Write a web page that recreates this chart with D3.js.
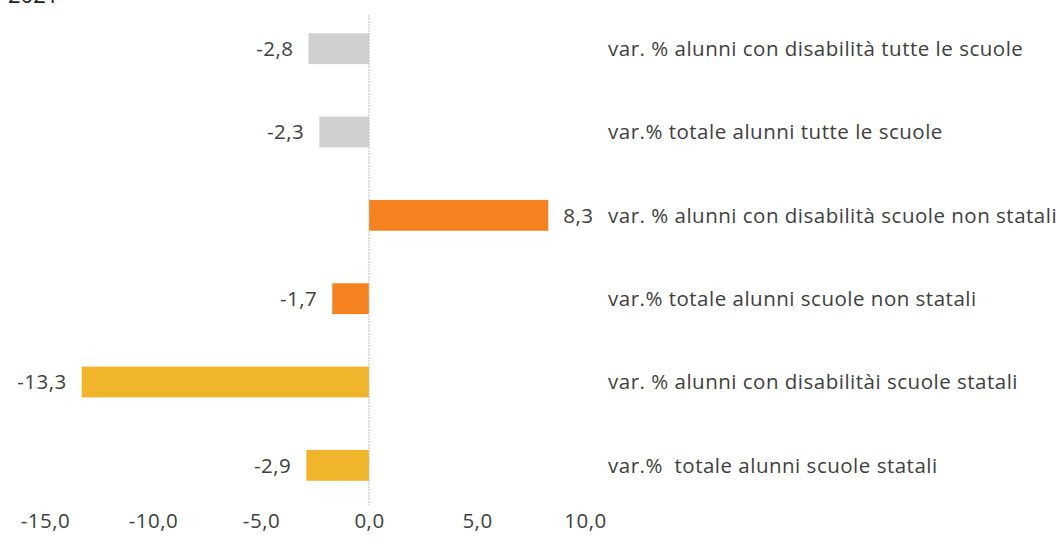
<!DOCTYPE html>
<html>
<head>
	<title>variazioni alunni</title>
	<style>
	body { margin: 0; background: #fff; }
	.lbl { font-family: "Open Sans", sans-serif; font-size: 20.5px; fill: #404040; letter-spacing: 0.5px; }
	.tick text { font-family: "Open Sans", sans-serif; font-size: 20.5px; fill: #404040; letter-spacing: 0.5px; }
	</style>
	<script src="https://d3js.org/d3.v7.min.js"></script>
</head>
<body>
	<script type="text/javascript">
		// dati
		var categories = [
			'var. % alunni con disabilità tutte le scuole',
			'var.% totale alunni tutte le scuole',
			'var. % alunni con disabilità scuole non statali',
			'var.% totale alunni scuole non statali',
			'var. % alunni con disabilitài scuole statali',
			'var.%  totale alunni scuole statali'
		];
		var values = [-2.8, -2.3, 8.3, -1.7, -13.3, -2.9];
		var groups = ['tutte', 'tutte', 'non statali', 'non statali', 'statali', 'statali'];
		var tickValues = [-15, -10, -5, 0, 5, 10];

		var svgWidth = 1061;
		var svgHeight = 547;

		var color = d3.scaleOrdinal()
			.domain(['tutte', 'non statali', 'statali'])
			.range(['#d0d0d0', '#f58220', '#f0b52a']);

		var svg = d3.select('body').append('svg')
			.attr('width', svgWidth)
			.attr('height', svgHeight);

		var x = d3.scaleLinear().domain([-15, 10]).range([45, 585]);
		var y = d3.scaleBand().domain(categories).range([7, 507]).paddingInner(0.63).paddingOuter(0.315);

		var fmt = function (v) { return d3.format('.1f')(v).replace('.', ',').replace('−', '-'); };

		// titolo tagliato in alto
		svg.append('text')
			.attr('x', 8).attr('y', 3)
			.style('font-family', 'Open Sans, sans-serif')
			.style('font-size', '22px')
			.style('fill', '#222')
			.text('2021');

		// barre
		svg.selectAll('rect.bar')
			.data(values)
			.enter()
			.append('rect')
			.attr('class', 'bar')
			.attr('x', function (d) { return x(Math.min(0, d)); })
			.attr('y', function (d, i) { return y(categories[i]); })
			.attr('width', function (d) { return Math.abs(x(d) - x(0)); })
			.attr('height', y.bandwidth())
			.attr('fill', function (d, i) { return color(groups[i]); });

		// linea dello zero
		svg.append('line')
			.attr('x1', x(0)).attr('x2', x(0))
			.attr('y1', 15).attr('y2', 505)
			.style('stroke', '#bfbfbf')
			.style('stroke-width', 1)
			.style('stroke-dasharray', '2,1');

		// etichette valori
		svg.selectAll('text.val')
			.data(values)
			.enter()
			.append('text')
			.attr('class', 'lbl val')
			.attr('x', function (d) { return d < 0 ? x(d) - 15 : x(d) + 15; })
			.attr('y', function (d, i) { return y(categories[i]) + y.bandwidth() / 2; })
			.attr('dy', '0.35em')
			.attr('text-anchor', function (d) { return d < 0 ? 'end' : 'start'; })
			.text(fmt);

		// etichette categorie a destra
		svg.selectAll('text.cat')
			.data(categories)
			.enter()
			.append('text')
			.attr('class', 'lbl cat')
			.attr('x', 608)
			.attr('y', function (d) { return y(d) + y.bandwidth() / 2; })
			.attr('dy', '0.35em')
			.style('white-space', 'pre')
			.text(function (d) { return d; });

		// asse x
		var axis = d3.axisBottom(x)
			.tickValues(tickValues)
			.tickSize(0)
			.tickPadding(0)
			.tickFormat(fmt);

		svg.append('g')
			.attr('transform', 'translate(0,513)')
			.call(axis)
			.call(function (g) { g.select('.domain').remove(); });
	</script>
</body>
</html>
